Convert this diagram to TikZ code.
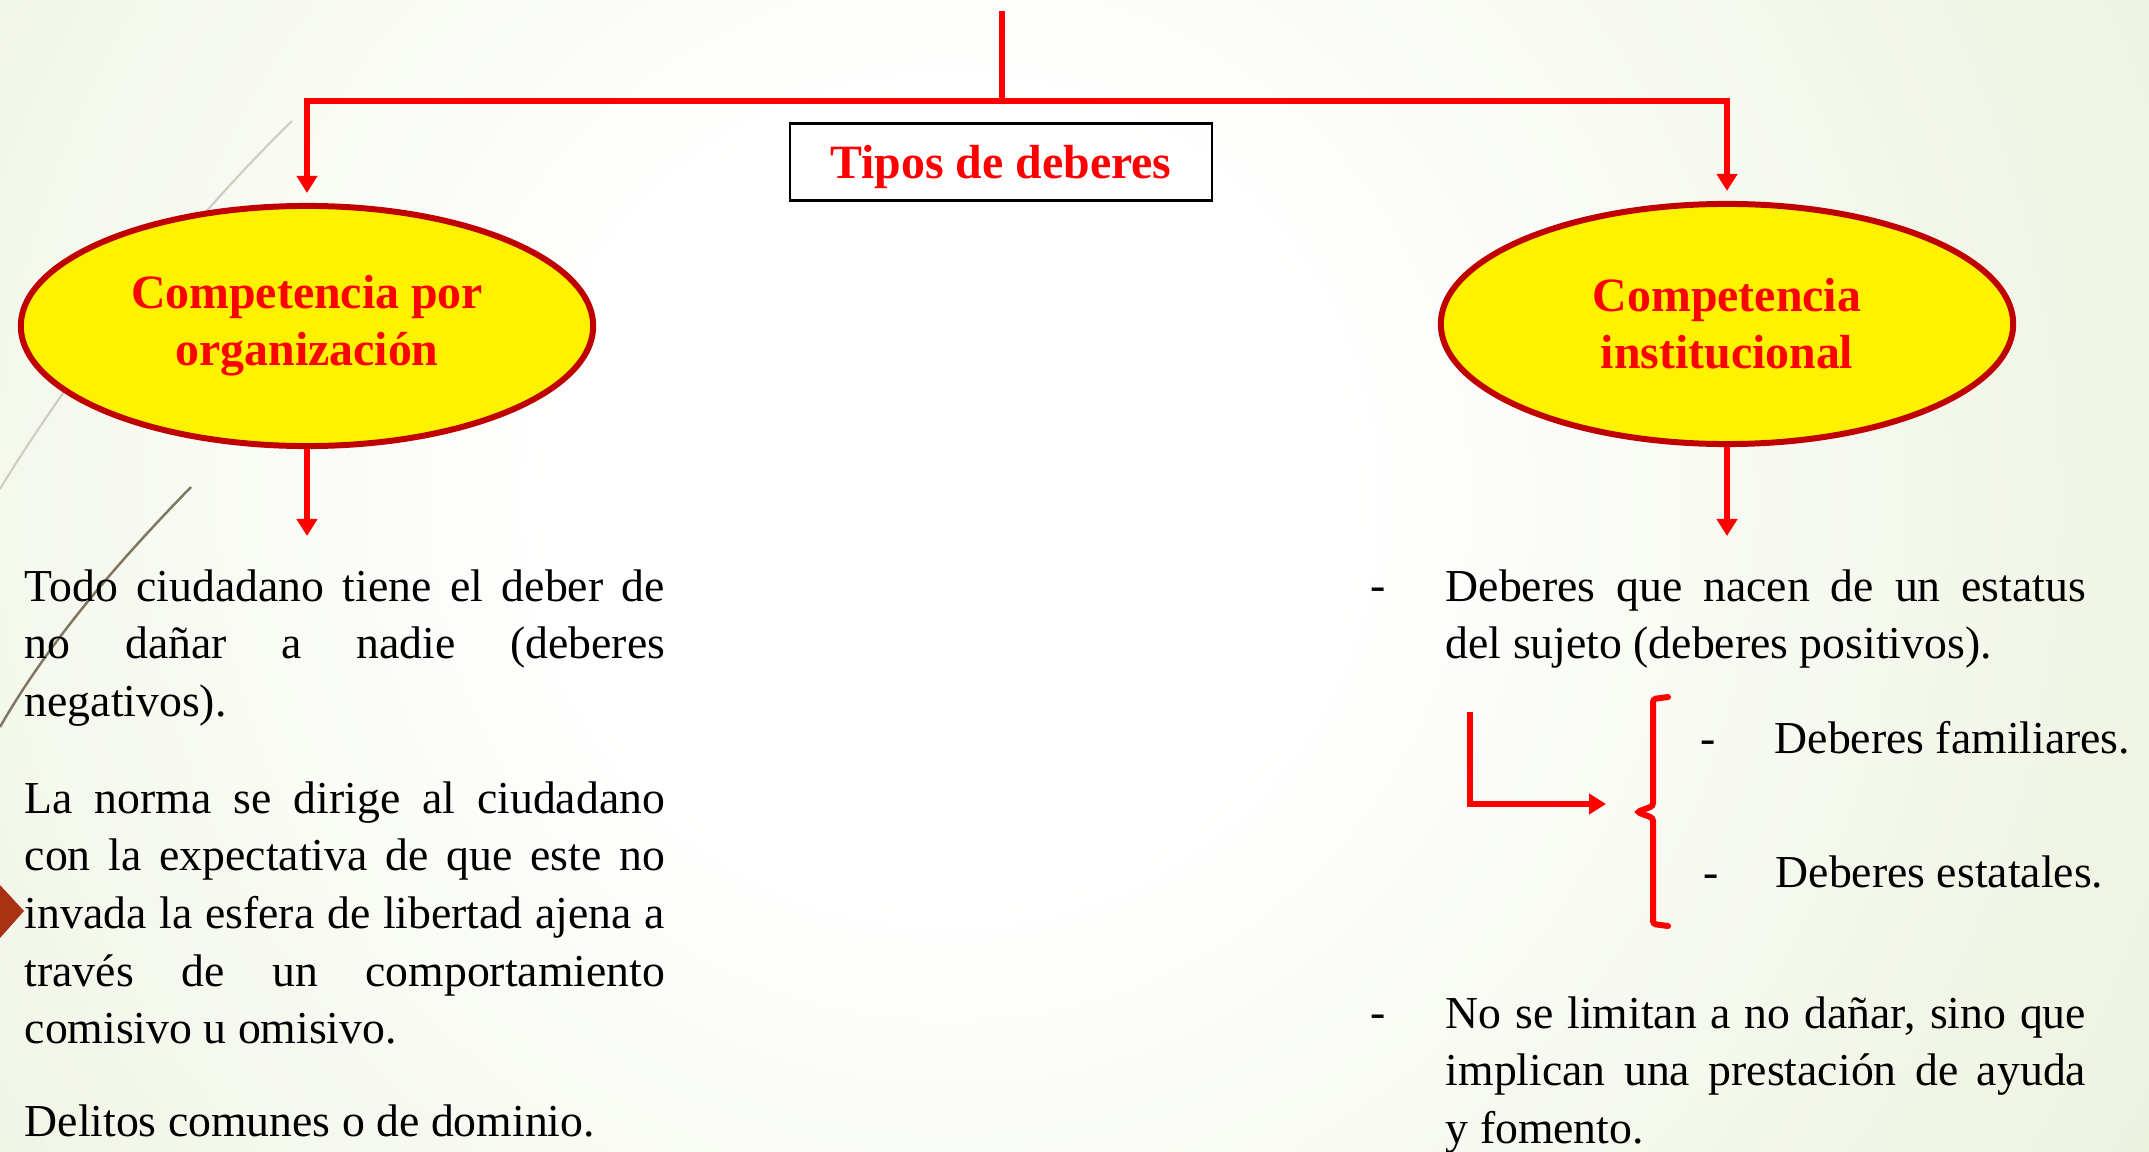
\documentclass[tikz,border=0pt]{standalone}
\usepackage{fontspec}
\setmainfont{Liberation Serif}
\usetikzlibrary{shapes.geometric,arrows.meta}

\definecolor{fondo}{RGB}{222,232,198}
\definecolor{rojo}{RGB}{255,0,0}
\definecolor{borde}{RGB}{192,0,0}
\definecolor{faceta}{RGB}{170,50,20}
\definecolor{trazo}{RGB}{205,205,192}
\definecolor{trazoosc}{RGB}{128,118,98}
\pgfdeclareradialshading{fondoshade}{\pgfpoint{0bp}{0bp}}{color(0bp)=(white); color(7bp)=(white); color(38bp)=(fondo); color(50bp)=(fondo)}

% linea justificada
\newcommand{\jl}[1]{\makebox[6.4cm][s]{#1}}

\begin{document}
\begin{tikzpicture}[x=0.01cm, y=-0.01cm,
    conn/.style={rojo, line width=1.45pt},
    flecha/.style={conn, -{Triangle[length=0.17cm, width=0.2cm]}},
    tipo/.style={ellipse, draw=borde, line width=1.7pt, fill=yellow,
      minimum width=5.72cm, minimum height=2.40cm, inner sep=0pt,
      align=center, text=rojo, font=\fontsize{13.6}{16.2}\selectfont\bfseries},
    titulo/.style={draw=black, line width=0.6pt, minimum width=4.22cm,
      minimum height=0.77cm, inner sep=0pt, text height=0.36cm, text depth=0.04cm,
      text=rojo, font=\fontsize{13.6}{15.9}\selectfont\bfseries},
    cuerpo/.style={inner sep=0pt, align=left, font=\fontsize{13}{16.36}\selectfont},
  ]
  % Fondo
  \useasboundingbox (0,0) rectangle (2149,1152);
  \begin{scope}
    \clip (0,0) rectangle (2149,1152);
    \shade[shading=fondoshade] (950,500) circle (14cm);
  \end{scope}
  \draw[trazo, line width=0.6pt] (292,121) .. controls (170,240) and (60,390) .. (0,489);
  \draw[trazoosc, line width=0.7pt] (191,487) .. controls (120,560) and (50,640) .. (0,727);
  \fill[faceta] (0,885) -- (24,911) -- (0,938) -- cycle;

  % Nodes
  \node[titulo] (tipos) at (1001,162) {Tipos de deberes};
  \node[tipo] (org) at (307,326) {Competencia por\\organización};
  \node[tipo] (inst) at (1727,324) {Competencia\\institucional};

  \coordinate (top) at (1002,11);
  \coordinate (hub) at (1002,101);
  \coordinate (orgfin) at (307,536);
  \coordinate (instfin) at (1727,536);
  \coordinate (lini) at (1470,712);
  \coordinate (lfin) at (1606,804);

  % Texto izquierda
  \node[cuerpo, anchor=north west] (p1) at (24,569)
    {\jl{Todo ciudadano tiene el deber de}\\\jl{no dañar a nadie (deberes}\\negativos).};
  \node[cuerpo, anchor=north west] (p2) at (24,781)
    {\jl{La norma se dirige al ciudadano}\\\jl{con la expectativa de que este no}\\\jl{invada la esfera de libertad ajena a}\\\jl{través de un comportamiento}\\comisivo u omisivo.};
  \node[cuerpo, anchor=north west] (p3) at (24,1104) {Delitos comunes o de dominio.};

  % Texto derecha
  \node[cuerpo, anchor=base west] (g1) at (1370,600) {-};
  \node[cuerpo, anchor=north west] (r1) at (1445,569)
    {\jl{Deberes que nacen de un estatus}\\del sujeto (deberes positivos).};
  \node[cuerpo, anchor=base west] (g2) at (1700,753) {-};
  \node[cuerpo, anchor=base west] (fam) at (1774,753) {Deberes familiares.};
  \node[cuerpo, anchor=base west] (g3) at (1703,887) {-};
  \node[cuerpo, anchor=base west] (est) at (1775,887) {Deberes estatales.};
  \node[cuerpo, anchor=base west] (g4) at (1370,1027) {-};
  \node[cuerpo, anchor=north west] (r2) at (1445,996)
    {\jl{No se limitan a no dañar, sino que}\\\jl{implican una prestación de ayuda}\\y fomento.};

  % Edges
  \draw[conn] (top) -- (hub);
  \draw[flecha, shorten >=0.1cm] (hub) -| (org.north);
  \draw[flecha, shorten >=0.1cm] (hub) -| (inst.north);
  \draw[flecha] (org.south) -- (orgfin);
  \draw[flecha] (inst.south) -- (instfin);
  \draw[flecha] (lini) |- (lfin);

  % Llave
  \draw[rojo, line width=1.7pt, line cap=round, rounded corners=0.03cm]
    (1668,697) -- (1653,699) -- (1653,806) -- (1637,812) -- (1653,818) -- (1653,924) -- (1668,926);
\end{tikzpicture}
\end{document}
